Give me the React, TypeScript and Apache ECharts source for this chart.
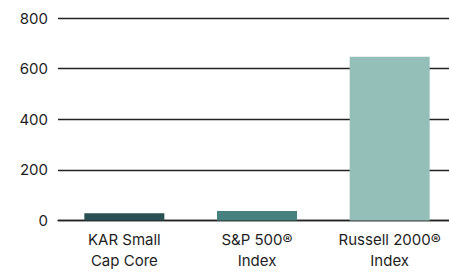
import React, { useEffect, useRef } from "react";
import * as echarts from "echarts";

const categories = ["KAR Small\nCap Core", "S&P 500®\nIndex", "Russell 2000®\nIndex"];
const values = [29, 38, 647];
const colors = ["#2b5053", "#47817f", "#94bfb9"];
const yTicks = [0, 200, 400, 600, 800];

export default function App() {
  const ref = useRef<HTMLDivElement>(null);
  useEffect(() => {
    document.body.style.margin = "0";
    const chart = echarts.init(ref.current!, null, { renderer: "svg" });
    chart.setOption({
      animation: false,
      grid: { left: 58, top: 18, width: 398, height: 202.5 },
      xAxis: {
        type: "category",
        data: categories,
        axisLine: { lineStyle: { color: "#222", width: 1.3 } },
        axisTick: { show: false },
        axisLabel: {
          color: "#1e1e1e",
          fontFamily: "Inter",
          fontSize: 15,
          lineHeight: 21,
          margin: 8,
          interval: 0,
        },
      },
      yAxis: {
        type: "value",
        min: yTicks[0],
        max: yTicks[yTicks.length - 1],
        interval: 200,
        axisLine: { show: false },
        axisTick: { show: false },
        splitLine: { lineStyle: { color: "#222", width: 1.3 } },
        axisLabel: { color: "#1e1e1e", fontFamily: "Inter", fontSize: 15, margin: 10 },
      },
      series: [
        {
          type: "bar",
          barWidth: 80,
          data: values.map((v, i) => ({ value: v, itemStyle: { color: colors[i] } })),
        },
      ],
    });
    return () => chart.dispose();
  }, []);
  return (
    <div
      style={{
        width: 449,
        height: 271,
        position: "absolute",
        left: 0,
        top: 0,
        overflow: "hidden",
      }}
    >
      <div ref={ref} style={{ width: 460, height: 271 }} />
    </div>
  );
}
